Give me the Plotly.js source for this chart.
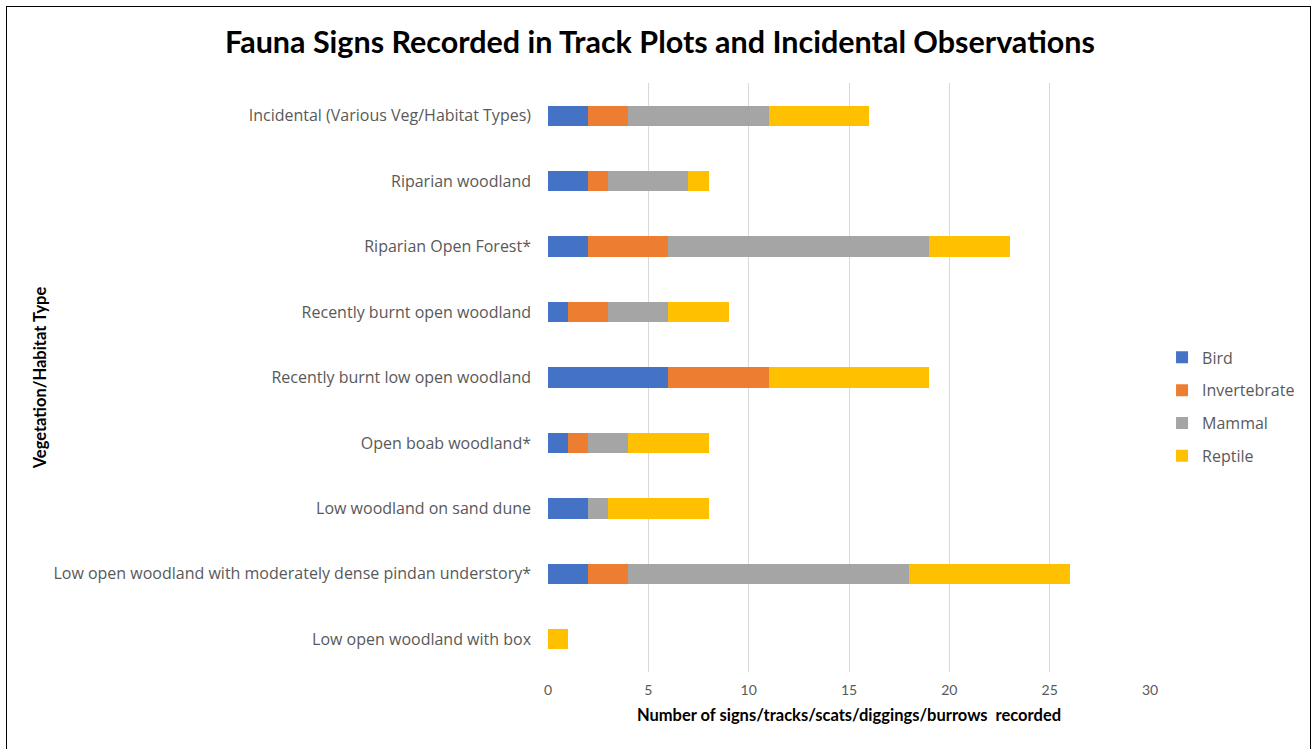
<!DOCTYPE html>
<html>
<head>
<meta charset="utf-8">
<script src="https://cdn.plot.ly/plotly-3.0.1.min.js"></script>
<style>
html,body{margin:0;padding:0;background:#fff;}
#wrap{position:relative;width:1312px;height:749px;}
#chart{width:1312px;height:749px;}
#frame{position:absolute;left:6px;top:6px;right:1px;bottom:-4px;border:1.5px solid #000;pointer-events:none;}
</style>
</head>
<body>
<div id="wrap"><div id="chart"></div><div id="frame"></div></div>
<script>
const categories = [
  "Low open woodland with box",
  "Low open woodland with moderately dense pindan understory*",
  "Low woodland on sand dune",
  "Open boab woodland*",
  "Recently burnt low open woodland",
  "Recently burnt open woodland",
  "Riparian Open Forest*",
  "Riparian woodland",
  "Incidental (Various Veg/Habitat Types)"
];
const bird =         [0, 2, 2, 1, 6, 1, 2, 2, 2];
const invertebrate = [0, 2, 0, 1, 5, 2, 4, 1, 2];
const mammal =       [0, 14, 1, 2, 0, 3, 13, 4, 7];
const reptile =      [1, 8, 5, 4, 8, 3, 4, 1, 5];
const seriesNames = ["Bird", "Invertebrate", "Mammal", "Reptile"];
const seriesColors = ["#4472C4", "#ED7D31", "#A5A5A5", "#FFC000"];
const seriesValues = [bird, invertebrate, mammal, reptile];

const FONT = "Lato, 'Open Sans', sans-serif";
const traces = seriesNames.map((n, i) => ({
  type: 'bar', orientation: 'h', name: n, legendgroup: n,
  x: seriesValues[i], y: categories,
  marker: {color: seriesColors[i], line: {width: 0}},
  width: 0.31,
  hoverinfo: 'x+y+name'
}));

const layout = {
  width: 1312, height: 749,
  paper_bgcolor: '#fff', plot_bgcolor: '#fff',
  barmode: 'stack',
  margin: {l: 548, r: 162, t: 83, b: 77, autoexpand: false},
  font: {family: FONT, color: '#595959', size: 14},
  title: {text: 'Fauna Signs Recorded in Track Plots and Incidental Observations',
          font: {family: FONT, size: 30.5, color: '#000', weight: 'bold'},
          x: 0.503, xanchor: 'center', y: 0.943, yanchor: 'middle'},
  xaxis: {range: [0, 30], dtick: 5, tick0: 0, showgrid: true, gridcolor: '#d9d9d9', gridwidth: 1,
          zeroline: false, showline: false, ticks: '', ticklabelstandoff: 8,
          tickfont: {size: 14, color: '#595959'},
          title: {text: 'Number of signs/tracks/scats/diggings/burrows  recorded',
                  font: {size: 16.5, color: '#000', weight: 'bold'}, standoff: 12}},
  yaxis: {type: 'category', showgrid: false, zeroline: false, showline: false, ticks: '',
          ticklabelstandoff: 16, tickfont: {family: "'Open Sans', sans-serif", size: 16, color: '#595959'},
          title: {text: 'Vegetation/Habitat Type', font: {size: 16.5, color: '#000', weight: 'bold'}, standoff: 2}},
  legend: {x: 1.02, xanchor: 'left', y: 0.45, yanchor: 'middle', traceorder: 'grouped',
           font: {family: "'Open Sans', sans-serif", size: 16, color: '#595959'}, itemwidth: 30,
           tracegroupgap: 9, bgcolor: 'rgba(0,0,0,0)'},
  showlegend: true
};

Plotly.newPlot('chart', traces, layout, {displayModeBar: false, staticPlot: true});
</script>
</body>
</html>
